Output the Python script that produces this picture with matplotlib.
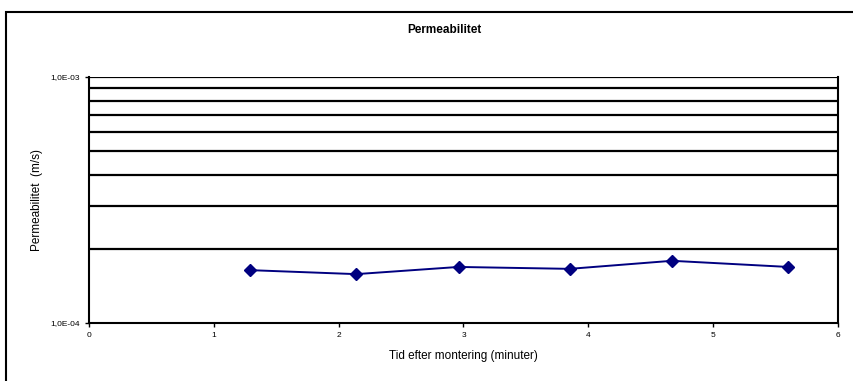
import matplotlib
matplotlib.use("Agg")
import matplotlib.pyplot as plt
from matplotlib.patches import Rectangle
from matplotlib.ticker import FixedLocator, NullFormatter

plt.rcParams['font.family'] = ['Liberation Sans', 'DejaVu Sans']

title = "Permeabilitet"
xlabel = "Tid efter montering (minuter)"
ylabel = "Permeabilitet  (m/s)"
time_min = [1.29, 2.14, 2.96, 3.85, 4.67, 5.60]
perm = [1.64e-4, 1.58e-4, 1.69e-4, 1.66e-4, 1.79e-4, 1.69e-4]
ytick_vals = [1e-4, 1e-3]
ytick_labels = ["1,0E-04", "1,0E-03"]
xticks = [0, 1, 2, 3, 4, 5, 6]

fig = plt.figure(figsize=(8.54, 3.81), dpi=100)
fig.patches.append(Rectangle((6/854, -0.1), 1.2, 1 - 12/381 + 0.1, transform=fig.transFigure,
                             fill=False, edgecolor='black', linewidth=1.5))
ax = fig.add_axes([89/854, 1 - 323/381, (838 - 89)/854, (323 - 77)/381])
ax.set_yscale('log')
ax.set_ylim(1e-4, 1e-3)
ax.set_xlim(0, 6)

grid_vals = [k * 1e-4 for k in range(2, 10)] + [1e-3]
for g in grid_vals:
    ax.axhline(g, color='black', linewidth=1.6, zorder=1)

ax.plot(time_min, perm, color='#000080', linewidth=1.4, marker='D', markersize=6, zorder=3)

ax.yaxis.set_major_locator(FixedLocator(ytick_vals))
ax.set_yticklabels(ytick_labels)
ax.yaxis.set_minor_locator(FixedLocator([]))
ax.yaxis.set_minor_formatter(NullFormatter())
ax.set_xticks(xticks)
ax.set_xticklabels([str(x) for x in xticks])
ax.tick_params(axis='both', labelsize=6, length=3, width=1, direction='out')

for s in ['left', 'bottom', 'right']:
    ax.spines[s].set_linewidth(1.5)
    ax.spines[s].set_color('black')
ax.spines['top'].set_visible(False)

ax.set_xlabel(xlabel, fontsize=8.5, labelpad=8)
ax.set_ylabel(ylabel, fontsize=8.5)
ax.yaxis.set_label_coords((43 - 89) / 749, 0.5)
fig.text(444/854, 1 - 30/381, title, ha='center', va='center', fontsize=8.5, fontweight='bold')

fig.savefig("out.png", dpi=100)
